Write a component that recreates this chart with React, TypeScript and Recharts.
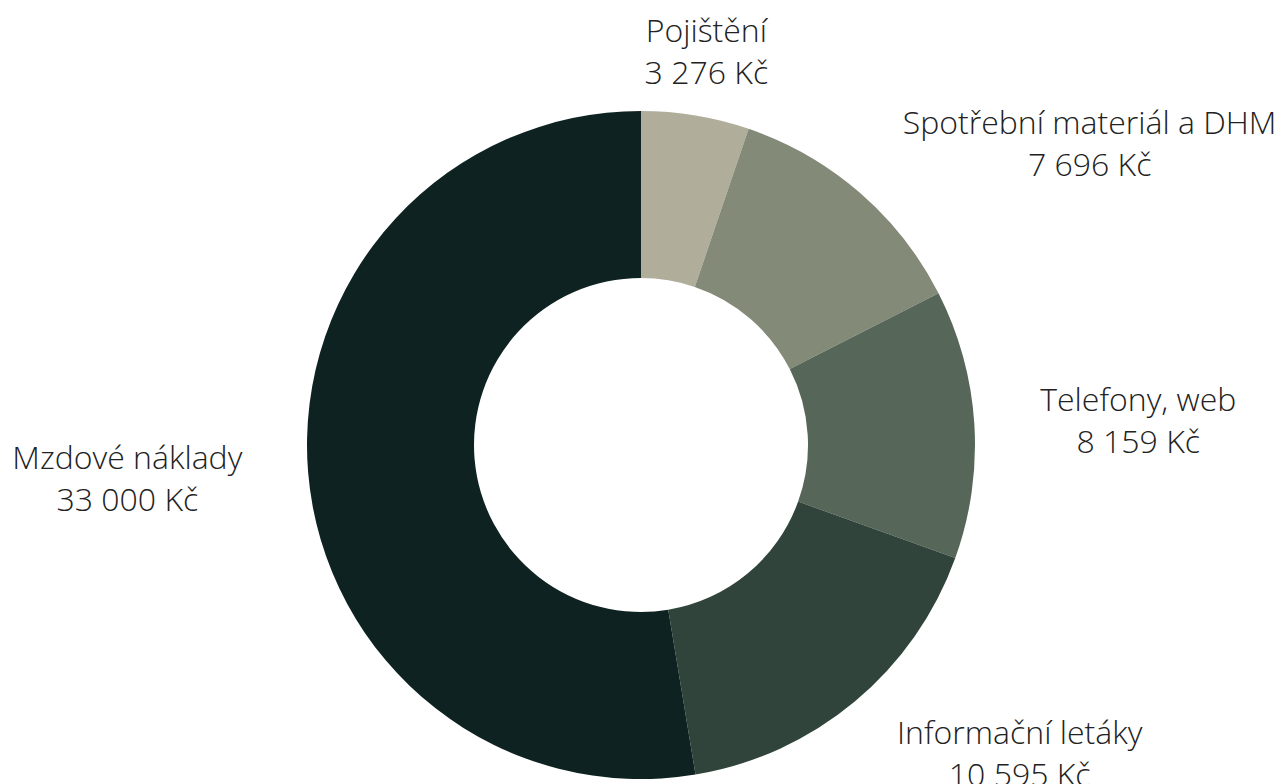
import React from 'react';
import { PieChart, Pie, Cell } from 'recharts';

const categories = ['Pojištění', 'Spotřební materiál a DHM', 'Telefony, web', 'Informační letáky', 'Mzdové náklady'];
const amounts = [3276, 7696, 8159, 10595, 33000];
const colors = ['#b0ae9b', '#838a78', '#566658', '#30443b', '#0e2321'];

const FONT_SIZE = 32;
const LINE_HEIGHT = 42;
const FONT = '"Open Sans", sans-serif';
const RADIAN = Math.PI / 180;

const data = categories.map((name, i) => ({ name, value: amounts[i] }));

const formatKc = (v: number) => v.toString().replace(/\B(?=(\d{3})+(?!\d))/g, ' ') + ' Kč';

let canvas: HTMLCanvasElement | null = null;
const measure = (text: string) => {
  if (!canvas) canvas = document.createElement('canvas');
  const ctx = canvas.getContext('2d');
  if (!ctx) return text.length * FONT_SIZE * 0.5;
  ctx.font = `300 ${FONT_SIZE}px ${FONT}`;
  return ctx.measureText(text).width;
};

const renderLabel = (props: any) => {
  const { cx, cy, midAngle, outerRadius, name, value } = props;
  const r = outerRadius + 66;
  const px = cx + r * Math.cos(-midAngle * RADIAN);
  const py = cy + r * Math.sin(-midAngle * RADIAN);
  const line2 = formatKc(value);
  const w = Math.max(measure(name), measure(line2));
  const dirX = Math.cos(-midAngle * RADIAN);
  let centerX = px;
  if (dirX > 0.3) centerX = px + w / 2;
  else if (dirX < -0.3) centerX = px - w / 2;
  return (
    <text
      x={centerX}
      y={py}
      textAnchor="middle"
      fill="#222222"
      fontFamily={FONT}
      fontWeight={300}
      fontSize={FONT_SIZE}
    >
      <tspan x={centerX} y={py - LINE_HEIGHT / 2} dominantBaseline="central">{name}</tspan>
      <tspan x={centerX} y={py + LINE_HEIGHT / 2} dominantBaseline="central">{line2}</tspan>
    </text>
  );
};

export default function App() {
  return (
    <div style={{ position: 'absolute', left: 0, top: 0, width: 1281, height: 784, background: '#ffffff' }}>
      <PieChart width={1281} height={784} margin={{ top: 0, right: 0, bottom: 0, left: 0 }}>
        <Pie
          data={data}
          dataKey="value"
          nameKey="name"
          cx={641}
          cy={445}
          innerRadius={167}
          outerRadius={334}
          startAngle={90}
          endAngle={-270}
          stroke="none"
          labelLine={false}
          label={renderLabel}
          isAnimationActive={false}
        >
          {data.map((d, i) => (
            <Cell key={d.name} fill={colors[i]} />
          ))}
        </Pie>
      </PieChart>
    </div>
  );
}
